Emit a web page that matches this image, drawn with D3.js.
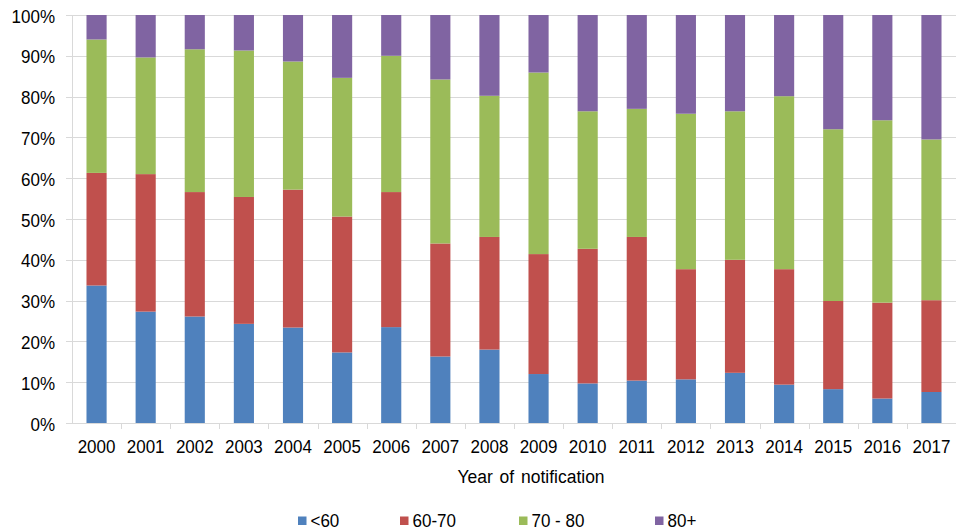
<!DOCTYPE html>
<html>
<head>
<meta charset="utf-8">
<script src="https://cdn.jsdelivr.net/npm/d3@7"></script>
<style>
  html, body { margin: 0; padding: 0; background: #fff; }
  svg { display: block; font-family: "Liberation Sans", Arial, sans-serif; }
</style>
</head>
<body>
<svg id="chart" width="956" height="530"></svg>
<script>
// Share of notifications by age group, per year (percent)
const years = ["2000","2001","2002","2003","2004","2005","2006","2007","2008",
               "2009","2010","2011","2012","2013","2014","2015","2016","2017"];
const ageGroups = ["<60", "60-70", "70 - 80", "80+"];
const under60 = [33.7, 27.3, 26.1, 24.3, 23.4, 17.3, 23.5, 16.3, 18.0, 12.0, 9.7, 10.4, 10.7, 12.3, 9.4, 8.3, 6.0, 7.6];
const age60to70 = [27.6, 33.7, 30.5, 31.1, 33.8, 33.3, 33.1, 27.7, 27.6, 29.4, 33.0, 35.2, 27.0, 27.7, 28.3, 21.6, 23.5, 22.5];
const age70to80 = [32.7, 28.6, 35.0, 35.9, 31.4, 34.0, 33.4, 40.2, 34.6, 44.5, 33.7, 31.4, 38.1, 36.4, 42.4, 42.1, 44.7, 39.4];
const age80plus = [6.0, 10.4, 8.4, 8.7, 11.4, 15.4, 10.0, 15.8, 19.8, 14.1, 23.6, 23.0, 24.2, 23.6, 19.9, 28.0, 25.8, 30.5];
const yTicks = [0, 10, 20, 30, 40, 50, 60, 70, 80, 90, 100];
const colors = ["#4F81BD", "#C0504D", "#9BBB59", "#8064A2"];

const seriesValues = [under60, age60to70, age70to80, age80plus];
const rows = years.map((y, i) => {
  const r = { year: y };
  ageGroups.forEach((g, k) => { r[g] = seriesValues[k][i]; });
  return r;
});

const svg = d3.select("#chart");
const margin = { left: 72, right: 0, top: 15, bottom: 107 };
const W = 956, H = 530;
const FS = 17, SY = 1.1; // label font size and vertical stretch

const x = d3.scaleBand().domain(years)
  .range([margin.left, W - margin.right])
  .paddingInner(0.59).paddingOuter(0.295);
const xTicks = d3.scaleBand().domain(years).range([margin.left, W - margin.right]);
const y = d3.scaleLinear().domain([0, 100]).range([H - margin.bottom, margin.top]);

const grid = "#d9d9d9";

// places a text element at (px, baseline) with a slight vertical stretch
function stretched(sel, px, py) {
  return sel.attr("transform", `translate(${px},${py}) scale(1,${SY})`);
}

// horizontal gridlines with small outward ticks
svg.append("g").selectAll("line").data(yTicks).join("line")
  .attr("x1", margin.left - 6).attr("x2", W - margin.right)
  .attr("y1", d => Math.round(y(d)) + 0.5).attr("y2", d => Math.round(y(d)) + 0.5)
  .attr("stroke", grid).attr("stroke-width", 1);

// left axis line
svg.append("line")
  .attr("x1", margin.left + 0.5).attr("x2", margin.left + 0.5)
  .attr("y1", y(100)).attr("y2", y(0) + 0.5)
  .attr("stroke", grid);

// x tick marks at band boundaries
svg.append("g").selectAll("line").data(years.slice(1)).join("line")
  .attr("x1", d => Math.round(xTicks(d)) + 0.5).attr("x2", d => Math.round(xTicks(d)) + 0.5)
  .attr("y1", y(0)).attr("y2", y(0) + 6)
  .attr("stroke", grid);

// y labels
svg.append("g").selectAll("text").data(yTicks).join("text")
  .each(function (d) { stretched(d3.select(this), 55, y(d) + 7.5); })
  .attr("text-anchor", "end").attr("font-size", FS).attr("fill", "#000")
  .text(d => d + "%");

// stacked bars
const stack = d3.stack().keys(ageGroups);
const layers = stack(rows);
svg.append("g").selectAll("g").data(layers).join("g")
  .attr("fill", (d, i) => colors[i])
  .selectAll("rect").data(d => d).join("rect")
  .attr("x", d => x(d.data.year))
  .attr("width", x.bandwidth())
  .attr("y", d => y(d[1]))
  .attr("height", d => y(d[0]) - y(d[1]));

// x labels
svg.append("g").selectAll("text").data(years).join("text")
  .each(function (d) { stretched(d3.select(this), xTicks(d) + xTicks.bandwidth() / 2, 453); })
  .attr("text-anchor", "middle").attr("font-size", FS).attr("fill", "#000")
  .text(d => d);

// axis title
stretched(svg.append("text"), 531, 483)
  .attr("text-anchor", "middle").attr("font-size", 17.5).attr("fill", "#000")
  .attr("word-spacing", 2)
  .text("Year of notification");

// legend
const legendX = [298, 400, 519, 655];
const lg = svg.append("g").selectAll("g").data(ageGroups).join("g")
  .attr("transform", (d, i) => `translate(${legendX[i]},0)`);
lg.append("rect").attr("x", 0).attr("y", 516.5).attr("width", 8.5).attr("height", 8.5)
  .attr("fill", (d, i) => colors[i]);
lg.append("text")
  .each(function () { stretched(d3.select(this), 12.5, 526.5); })
  .attr("font-size", FS).attr("fill", "#000").text(d => d);
</script>
</body>
</html>
